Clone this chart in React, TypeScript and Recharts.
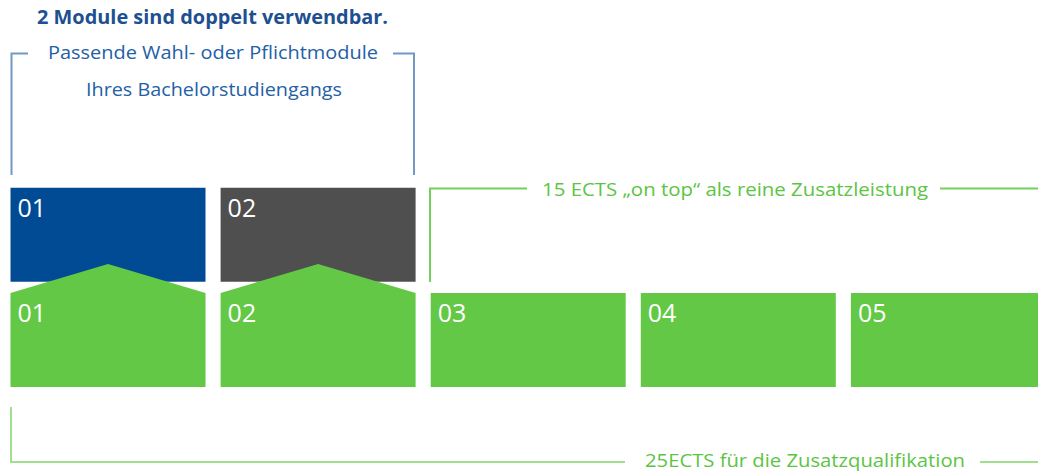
import { BarChart, Bar, XAxis, YAxis, LabelList, Cell } from "recharts";

// module slots of the additional qualification
const modules = ["01", "02", "03", "04", "05"];
// ECTS per module
const ects = [5, 5, 5, 5, 5];
// modules that can also be credited to the bachelor programme (range on the y scale)
const doubleUse: ([number, number] | null)[] = [[5.6, 10.6], [5.6, 10.6], null, null, null];
const doubleUseColors = ["#004b93", "#4f4f4f", "#fff", "#fff", "#fff"];

const title = "2 Module sind doppelt verwendbar.";
const bachelorLabel = ["Passende Wahl- oder Pflichtmodule", "Ihres Bachelorstudiengangs"];
const onTopLabel = "15 ECTS \u201Eon top\u201C als reine Zusatzleistung";
const totalLabel = "25ECTS f\u00FCr die Zusatzqualifikation";

const data = modules.map((m, i) => ({
  module: m,
  ects: ects[i],
  top: doubleUse[i],
  topLabel: doubleUse[i] ? m : null,
}));

const GREEN = "#63c846";
const FONT = "'Open Sans', 'Noto Sans', sans-serif";

function GreenShape(props: any) {
  const { x, y, width, height, payload } = props;
  if (payload.top) {
    const peak = (height * 29) / 94;
    const d = `M${x},${y} L${x + width / 2},${y - peak} L${x + width},${y} L${x + width},${y + height} L${x},${y + height} Z`;
    return <path d={d} fill={GREEN} />;
  }
  return <rect x={x} y={y} width={width} height={height} fill={GREEN} />;
}

function ModuleLabel(props: any) {
  const { x, y, value } = props;
  if (value == null) return null;
  return (
    <text x={x + 7} y={y + 29} fill="#fff" fontSize={25} fontWeight={500} fontFamily={FONT}>
      {value}
    </text>
  );
}

function Brackets() {
  const blue = "#7299c4";
  const green = "#74d05b";
  const green2 = "#a0df8b";
  return (
    <svg width={1038} height={472} style={{ position: "absolute", left: 0, top: 0 }}>
      <text x={37} y={24} fill="#1d4f91" fontSize={19} fontWeight={700} fontFamily={FONT} textLength={351} lengthAdjust="spacingAndGlyphs">
        {title}
      </text>
      <polyline points="11.5,175 11.5,53.5 28,53.5" fill="none" stroke={blue} strokeWidth={2} />
      <polyline points="393,53.5 414,53.5 414,175" fill="none" stroke={blue} strokeWidth={2} />
      <text x={48} y={59} fill="#2360a6" fontSize={17.5} fontWeight={500} fontFamily={FONT} textLength={330} lengthAdjust="spacingAndGlyphs">
        {bachelorLabel[0]}
      </text>
      <text x={86} y={96} fill="#2360a6" fontSize={17.5} fontWeight={500} fontFamily={FONT} textLength={256} lengthAdjust="spacingAndGlyphs">
        {bachelorLabel[1]}
      </text>

      <polyline points="430,282 430,188.5 527,188.5" fill="none" stroke={green} strokeWidth={2} />
      <line x1={940} y1={188.5} x2={1038} y2={188.5} stroke={green} strokeWidth={2} />
      <text x={542} y={196} fill="#5cc443" fontSize={18.5} fontWeight={500} fontFamily={FONT} textLength={386} lengthAdjust="spacingAndGlyphs">
        {onTopLabel}
      </text>

      <polyline points="11,407 11,462 625,462" fill="none" stroke={green2} strokeWidth={2} />
      <line x1={980} y1={462} x2={1038} y2={462} stroke={green2} strokeWidth={2} />
      <text x={645} y={467} fill="#5cc443" fontSize={18.5} fontWeight={500} fontFamily={FONT} textLength={320} lengthAdjust="spacingAndGlyphs">
        {totalLabel}
      </text>
    </svg>
  );
}

export default function App() {
  return (
    <div style={{ position: "absolute", left: 0, top: 0, width: 1038, height: 472, overflow: "hidden", background: "#fff" }}>
      <BarChart
        width={1053}
        height={472}
        data={data}
        margin={{ top: 11, right: 0, bottom: 85, left: 2.5 }}
      >
        <XAxis xAxisId="top" dataKey="module" hide />
        <XAxis xAxisId="base" dataKey="module" hide />
        <YAxis domain={[0, 20]} hide />
        <Bar xAxisId="top" dataKey="top" barSize={195} isAnimationActive={false}>
          {data.map((d, i) => (
            <Cell key={d.module} fill={doubleUseColors[i]} />
          ))}
          <LabelList dataKey="topLabel" content={<ModuleLabel />} />
        </Bar>
        <Bar xAxisId="base" dataKey="ects" barSize={195} shape={<GreenShape />} isAnimationActive={false}>
          <LabelList dataKey="module" content={<ModuleLabel />} />
        </Bar>
      </BarChart>
      <Brackets />
    </div>
  );
}
